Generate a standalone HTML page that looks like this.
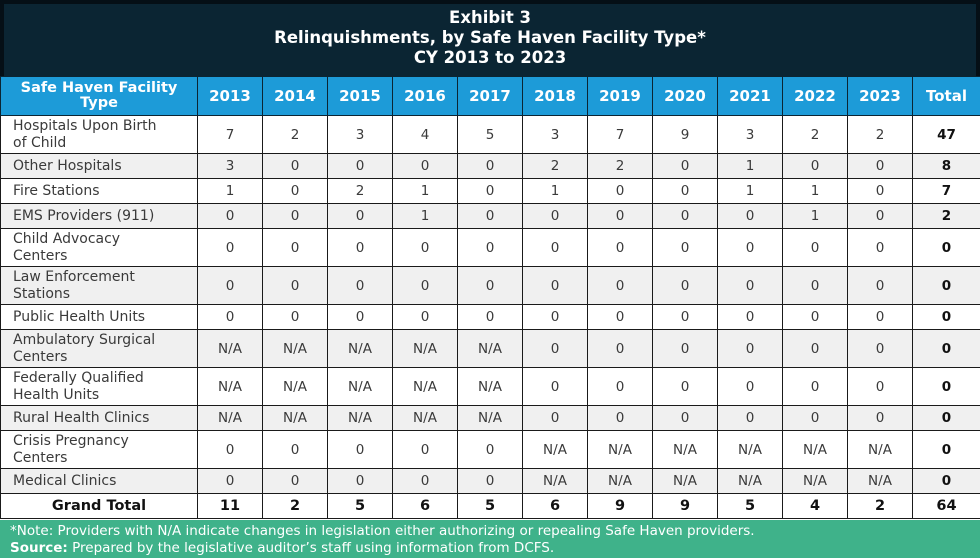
<!DOCTYPE html>
<html><head><meta charset="utf-8"><style>
*{margin:0;padding:0;box-sizing:border-box}
body{width:980px;height:558px;overflow:hidden;background:#fff;font-family:"DejaVu Sans","Liberation Sans",sans-serif}
.title{position:absolute;left:0;top:0;width:980px;height:76px;background:#0b2533;border:4px solid #050f16;border-bottom:0;color:#fff;font-weight:bold;font-size:16.5px;text-align:center;line-height:20px;padding-top:4px}
table{position:absolute;left:0;top:76px;width:980px;border-collapse:collapse;table-layout:fixed}
td,th{border:1.5px solid #1a1a1a;text-align:center;font-size:13.5px;color:#3a3a3a;padding:0;white-space:nowrap}
th{background:#1d9bd8;color:#fff;font-weight:bold;font-size:15px;height:39px;border-color:#0b2533}
th.f{font-size:14.5px;line-height:15px}
td.l{text-align:left;padding-left:12px;line-height:17px;font-size:14px}
tr.s td{height:25px}
tr.t td{height:38px}
tr.g td{background:#f0f0f0}
td.b{font-weight:bold;color:#111}
tr.gt td{font-weight:bold;color:#111;height:25px;font-size:14.5px}
.note{position:absolute;left:0;top:520px;width:980px;height:38px;background:#3fb28a;color:#fff;font-size:13.5px;line-height:17px;padding:3px 0 0 10px}
</style></head><body>
<div class="title">Exhibit 3<br>Relinquishments, by Safe Haven Facility Type*<br>CY 2013 to 2023</div>
<table>
<colgroup><col style="width:197px"><col span="11" style="width:65px"><col style="width:68px"></colgroup>
<tr><th class="f">Safe Haven Facility<br>Type</th><th>2013</th><th>2014</th><th>2015</th><th>2016</th><th>2017</th><th>2018</th><th>2019</th><th>2020</th><th>2021</th><th>2022</th><th>2023</th><th>Total</th></tr>
<tr class="t"><td class="l">Hospitals Upon Birth<br>of Child</td><td>7</td><td>2</td><td>3</td><td>4</td><td>5</td><td>3</td><td>7</td><td>9</td><td>3</td><td>2</td><td>2</td><td class="b">47</td></tr>
<tr class="s g"><td class="l">Other Hospitals</td><td>3</td><td>0</td><td>0</td><td>0</td><td>0</td><td>2</td><td>2</td><td>0</td><td>1</td><td>0</td><td>0</td><td class="b">8</td></tr>
<tr class="s"><td class="l">Fire Stations</td><td>1</td><td>0</td><td>2</td><td>1</td><td>0</td><td>1</td><td>0</td><td>0</td><td>1</td><td>1</td><td>0</td><td class="b">7</td></tr>
<tr class="s g"><td class="l">EMS Providers (911)</td><td>0</td><td>0</td><td>0</td><td>1</td><td>0</td><td>0</td><td>0</td><td>0</td><td>0</td><td>1</td><td>0</td><td class="b">2</td></tr>
<tr class="t"><td class="l">Child Advocacy<br>Centers</td><td>0</td><td>0</td><td>0</td><td>0</td><td>0</td><td>0</td><td>0</td><td>0</td><td>0</td><td>0</td><td>0</td><td class="b">0</td></tr>
<tr class="t g"><td class="l">Law Enforcement<br>Stations</td><td>0</td><td>0</td><td>0</td><td>0</td><td>0</td><td>0</td><td>0</td><td>0</td><td>0</td><td>0</td><td>0</td><td class="b">0</td></tr>
<tr class="s"><td class="l">Public Health Units</td><td>0</td><td>0</td><td>0</td><td>0</td><td>0</td><td>0</td><td>0</td><td>0</td><td>0</td><td>0</td><td>0</td><td class="b">0</td></tr>
<tr class="t g"><td class="l">Ambulatory Surgical<br>Centers</td><td>N/A</td><td>N/A</td><td>N/A</td><td>N/A</td><td>N/A</td><td>0</td><td>0</td><td>0</td><td>0</td><td>0</td><td>0</td><td class="b">0</td></tr>
<tr class="t"><td class="l">Federally Qualified<br>Health Units</td><td>N/A</td><td>N/A</td><td>N/A</td><td>N/A</td><td>N/A</td><td>0</td><td>0</td><td>0</td><td>0</td><td>0</td><td>0</td><td class="b">0</td></tr>
<tr class="s g"><td class="l">Rural Health Clinics</td><td>N/A</td><td>N/A</td><td>N/A</td><td>N/A</td><td>N/A</td><td>0</td><td>0</td><td>0</td><td>0</td><td>0</td><td>0</td><td class="b">0</td></tr>
<tr class="t"><td class="l">Crisis Pregnancy<br>Centers</td><td>0</td><td>0</td><td>0</td><td>0</td><td>0</td><td>N/A</td><td>N/A</td><td>N/A</td><td>N/A</td><td>N/A</td><td>N/A</td><td class="b">0</td></tr>
<tr class="s g"><td class="l">Medical Clinics</td><td>0</td><td>0</td><td>0</td><td>0</td><td>0</td><td>N/A</td><td>N/A</td><td>N/A</td><td>N/A</td><td>N/A</td><td>N/A</td><td class="b">0</td></tr>
<tr class="gt"><td>Grand Total</td><td>11</td><td>2</td><td>5</td><td>6</td><td>5</td><td>6</td><td>9</td><td>9</td><td>5</td><td>4</td><td>2</td><td>64</td></tr>
</table>
<div class="note">*Note: Providers with N/A indicate changes in legislation either authorizing or repealing Safe Haven providers.<br><b>Source:</b> Prepared by the legislative auditor’s staff using information from DCFS.</div>
</body></html>
